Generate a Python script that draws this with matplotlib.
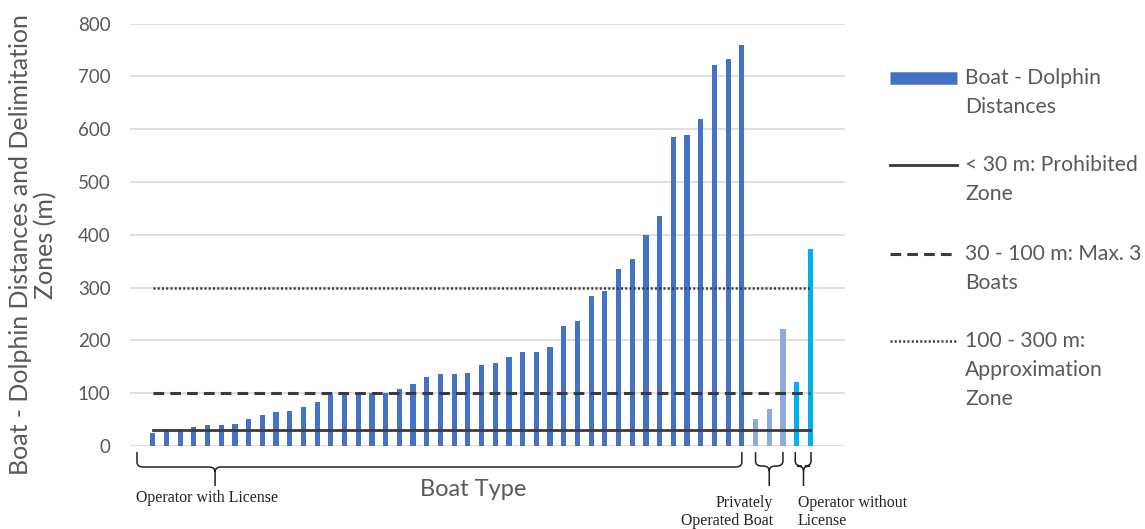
import matplotlib.pyplot as plt
from matplotlib.path import Path
from matplotlib.patches import PathPatch
from matplotlib.lines import Line2D
from matplotlib.transforms import blended_transform_factory

# === Data ===
license_dist = [25, 30, 30, 36, 39, 40, 42, 51, 59, 64,
                67, 73, 83, 97, 99, 99, 100, 101, 108, 118,
                131, 136, 137, 138, 153, 158, 169, 178, 178, 188,
                227, 237, 284, 294, 335, 355, 400, 436, 586, 588,
                620, 721, 733, 759]
private_dist = [52, 71, 222]
no_license_dist = [122, 373]

zone_limits = [30, 100, 300]
zone_labels = [["< 30 m: Prohibited", "Zone"],
               ["30 - 100 m: Max. 3", "Boats"],
               ["100 - 300 m:", "Approximation", "Zone"]]
bar_label = ["Boat - Dolphin", "Distances"]
group_labels = ["Operator with License",
                "Privately\nOperated Boat",
                "Operator without\nLicense"]
yticks = [0, 100, 200, 300, 400, 500, 600, 700, 800]

# === Style ===
W, H = 1145, 529
plt.rcParams['font.family'] = ['Lato', 'DejaVu Sans']
GRAY_TXT = '#595959'
LINE_C = '#3a3a3a'
C_LIC = '#4472C4'
C_PRIV = '#8FAADC'
C_NOLIC = '#00B0F0'

fig = plt.figure(figsize=(W / 100, H / 100), dpi=100)
ax = fig.add_axes([130 / W, 83 / H, 715 / W, 422.5 / H])

values = license_dist + private_dist + no_license_dist
colors = [C_LIC] * len(license_dist) + [C_PRIV] * len(private_dist) + [C_NOLIC] * len(no_license_dist)
xs = list(range(len(values)))
ax.bar(xs, values, width=0.38, color=colors, zorder=3)

# zone lines across all bars
styles = [dict(linestyle='-'), dict(dashes=(3.5, 2.0)), dict(dashes=(0.8, 0.9))]
widths = [2.0, 2.2, 1.8]
for lim, st, lw in zip(zone_limits, styles, widths):
    ax.plot([xs[0], xs[-1]], [lim, lim], color=LINE_C, lw=lw, zorder=4, **st)

ax.set_xlim(-1.66, 50.53)
ax.set_ylim(0, 800)
ax.set_yticks(yticks)
ax.set_xticks([])
ax.grid(axis='y', color='#D9D9D9', lw=1.2, zorder=0)
ax.set_axisbelow(True)
for s in ax.spines.values():
    s.set_visible(False)
ax.tick_params(axis='y', length=0, pad=14, labelsize=13.5, labelcolor=GRAY_TXT)

fig.text(33 / W, 1 - 245 / H, "Boat - Dolphin Distances and Delimitation\nZones (m)",
         rotation=90, ha='center', va='center', multialignment='center',
         fontsize=18, color=GRAY_TXT, linespacing=1.08)
fig.text(473 / W, 1 - 489 / H, "Boat Type", ha='center', va='center',
         fontsize=17, color=GRAY_TXT)

# === Braces below the bars ===
tr = blended_transform_factory(ax.transData, fig.transFigure)


def brace(x0, x1, xt, yh_px):
    ytop = 1 - 452 / H
    yh = 1 - yh_px / H
    ybot = 1 - 486 / H
    dy = 5 / H
    d = 0.45
    verts = [(x0, ytop), (x0, yh + dy), (x0, yh), (x0 + d, yh),
             (xt - d, yh), (xt, yh), (xt, yh - dy), (xt, ybot),
             (xt, yh - dy), (xt, yh), (xt + d, yh),
             (x1 - d, yh), (x1, yh), (x1, yh + dy), (x1, ytop)]
    codes = [Path.MOVETO, Path.LINETO, Path.CURVE3, Path.CURVE3,
             Path.LINETO, Path.CURVE3, Path.CURVE3, Path.LINETO,
             Path.MOVETO, Path.CURVE3, Path.CURVE3,
             Path.LINETO, Path.CURVE3, Path.CURVE3, Path.LINETO]
    p = PathPatch(Path(verts, codes), transform=tr, fill=False,
                  edgecolor='#222222', lw=1.1, clip_on=False)
    fig.add_artist(p)


n1 = len(license_dist)
n2 = n1 + len(private_dist)
brace(-1.15, n1 - 1, 4.55, 467)
brace(n1, n2 - 1, n1 + 1, 466)
brace(n2 - 0.1, n2 + 1.05, n2 + 0.5, 466)

serif = ['Liberation Serif', 'DejaVu Serif']
fig.text(136 / W, 1 - 498 / H, group_labels[0], ha='left', va='center',
         family=serif, fontsize=11.4, color='#222222')
fig.text(773 / W, 1 - 512 / H, group_labels[1], ha='right', va='center',
         multialignment='right', family=serif, fontsize=11.4, color='#222222',
         linespacing=1.1)
fig.text(798 / W, 1 - 512 / H, group_labels[2], ha='left', va='center',
         multialignment='left', family=serif, fontsize=11.4, color='#222222',
         linespacing=1.1)

# === Legend (drawn by hand to match layout) ===
hx0, hx1, tx = 890 / W, 957 / W, 965 / W
step = 29 / H
entries = [(78, bar_label), (165, zone_labels[0]), (254, zone_labels[1]), (341, zone_labels[2])]
handles = [dict(color=C_LIC, lw=9, solid_capstyle='butt'),
           dict(color=LINE_C, lw=2.0, linestyle='-'),
           dict(color=LINE_C, lw=2.2, dashes=(3.5, 2.0)),
           dict(color=LINE_C, lw=1.8, dashes=(0.8, 0.9))]
for (ypx, lines), hd in zip(entries, handles):
    y = 1 - ypx / H
    fig.add_artist(Line2D([hx0, hx1], [y, y], transform=fig.transFigure, **hd))
    for k, t in enumerate(lines):
        fig.text(tx, y - k * step, t, ha='left', va='center',
                 fontsize=15.2, color=GRAY_TXT)

fig.savefig('out.png', dpi=100)
